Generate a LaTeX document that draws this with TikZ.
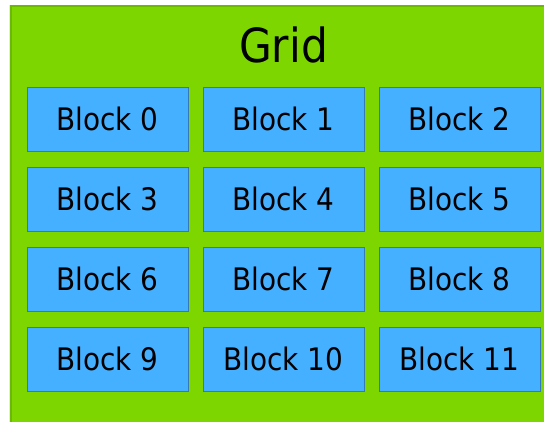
\documentclass[tikz,border=0pt]{standalone}
\usepackage{fontspec}
\setmainfont{DejaVu Sans Condensed}
\definecolor{gridgreen}{HTML}{7ED600}
\definecolor{gridedge}{HTML}{6CBA00}
\definecolor{blockblue}{HTML}{45B0FF}
\definecolor{blockedge}{HTML}{3479B8}
\tikzset{
	blockbox/.style={draw=blockedge, fill=blockblue, line width=1pt, minimum width=161pt, minimum height=64pt, inner sep=0pt, font=\fontsize{31}{36}\selectfont}
}

\begin{document}
\begin{tikzpicture}[x=1pt, y=-1pt]
			
			% Fix the page to the size of the reference
			\useasboundingbox (0,0) rectangle (544,421);
			\clip (0,0) rectangle (544,421);
			
			% Draw the grid area with its faint shadow
			\fill[gray!18] (9,5) rectangle (560,440);
			\fill[gridgreen] (11,6) rectangle (560,440);
			\draw[gridedge, line width=1.5pt] (11,440) -- (11,6) -- (560,6);
			
			% Title of the grid
			\node[font=\fontsize{47}{54}\selectfont] (title) at (283.5,45) {Grid};
			
			% Draw the blocks, three per row
			\foreach \n in {0,...,11} {
				\pgfmathtruncatemacro{\col}{mod(\n,3)}
				\pgfmathtruncatemacro{\row}{div(\n,3)}
				\node[blockbox] (b\n) at (107.5+176*\col, 119+80*\row) {Block \n};
			}
			
		\end{tikzpicture}
\end{document}
